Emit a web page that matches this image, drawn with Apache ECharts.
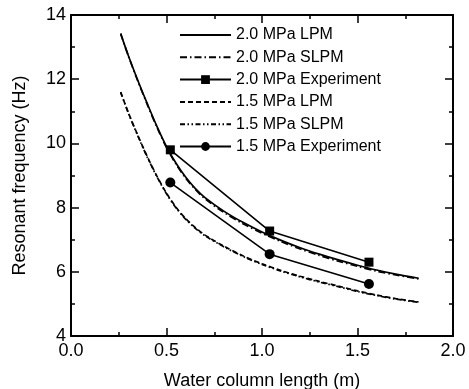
<!DOCTYPE html>
<html>
<head>
<meta charset="utf-8">
<script src="https://cdn.jsdelivr.net/npm/echarts@6/dist/echarts.min.js"></script>
<style>
html,body{margin:0;padding:0;background:#fff;}
#c{width:469px;height:389px;}
</style>
</head>
<body>
<div id="c"></div>
<script>
// ---- data ----
var xCurve = [0.26,0.30,0.35,0.40,0.45,0.50,0.55,0.60,0.65,0.70,0.80,0.90,1.00,1.10,1.20,1.30,1.40,1.50,1.60,1.70,1.82];
var lpm20  = [13.42,12.74,11.96,11.23,10.53,9.90,9.38,8.95,8.60,8.32,7.89,7.54,7.24,6.98,6.75,6.55,6.37,6.205,6.055,5.93,5.80];
var slpm20 = [13.42,12.73,11.94,11.20,10.50,9.87,9.35,8.92,8.57,8.28,7.85,7.50,7.20,6.94,6.71,6.51,6.33,6.17,6.02,5.90,5.78];
var lpm15  = [11.60,10.96,10.25,9.58,8.98,8.45,8.01,7.66,7.38,7.15,6.80,6.50,6.25,6.04,5.86,5.70,5.555,5.405,5.275,5.165,5.06];
var slpm15 = [11.59,10.95,10.23,9.56,8.96,8.43,7.99,7.64,7.36,7.13,6.78,6.48,6.23,6.02,5.84,5.68,5.535,5.385,5.26,5.15,5.05];
var xExp   = [0.52,1.04,1.56];
var exp20  = [9.80,7.27,6.30];
var exp15  = [8.78,6.55,5.62];
var seriesNames = ['2.0 MPa LPM','2.0 MPa SLPM','2.0 MPa Experiment','1.5 MPa LPM','1.5 MPa SLPM','1.5 MPa Experiment'];
var xTitle = 'Water column length (m)';
var yTitle = 'Resonant frequency (Hz)';

function pairs(xs, ys){ return xs.map(function(x,i){ return [x, ys[i]]; }); }

var FONT = 'Liberation Sans, Arial, Helvetica, sans-serif';
var chart = echarts.init(document.getElementById('c'));

function axisCommon(extra){
  var base = {
    axisLine:{show:true, onZero:false, lineStyle:{color:'#000', width:2}},
    axisTick:{show:true, inside:true, length:8, lineStyle:{color:'#000', width:1.5}},
    minorTick:{show:true, splitNumber:2, length:4, lineStyle:{color:'#000', width:1.5}},
    splitLine:{show:false},
    minorSplitLine:{show:false}
  };
  for (var k in extra) base[k] = extra[k];
  return base;
}

function lineSeries(name, data, dash){
  return {
    name:name, type:'line', data:data, smooth:0.3,
    symbol:'none', showSymbol:false,
    lineStyle:{color:'#000', width:1.7, type:dash},
    itemStyle:{color:'#000'},
    animation:false, z:2
  };
}
function expSeries(name, data, symbol, size){
  return {
    name:name, type:'line', data:data, smooth:false,
    symbol:symbol, symbolSize:size, showSymbol:true,
    lineStyle:{color:'#000', width:1.6, type:'solid'},
    itemStyle:{color:'#000'},
    animation:false, z:3
  };
}

var hasMarker = [false,false,true,false,false,true];
var legendData = seriesNames.map(function(n,i){
  return hasMarker[i] ? {name:n} : {name:n, itemStyle:{color:'rgba(0,0,0,0)', borderWidth:0, opacity:0}};
});

var option = {
  backgroundColor:'#fff',
  animation:false,
  textStyle:{fontFamily:FONT, color:'#000'},
  grid:{left:71, right:16, top:15, bottom:53, containLabel:false, outerBoundsMode:'none'},
  legend:{
    orient:'vertical', left:174, top:22,
    itemWidth:51, itemHeight:11, itemGap:6.3,
    textStyle:{fontFamily:FONT, fontSize:16, color:'#000'},
    data:legendData,
    selectedMode:false
  },
  xAxis:[
    axisCommon({type:'value', position:'bottom', min:0, max:2, interval:0.5,
      name:xTitle, nameLocation:'middle', nameGap:36,
      nameTextStyle:{fontFamily:FONT, fontSize:18, color:'#000'},
      axisLabel:{show:true, margin:6, fontFamily:FONT, fontSize:18, color:'#000',
        formatter:function(v){ return v.toFixed(1); }}}),
    axisCommon({type:'value', position:'top', min:0, max:2, interval:0.5,
      axisLabel:{show:false}})
  ],
  yAxis:[
    axisCommon({type:'value', position:'left', min:4, max:14, interval:2,
      name:yTitle, nameLocation:'middle', nameGap:42,
      nameTextStyle:{fontFamily:FONT, fontSize:18, color:'#000'},
      axisLabel:{show:true, margin:5, fontFamily:FONT, fontSize:18, color:'#000'}}),
    axisCommon({type:'value', position:'right', min:4, max:14, interval:2,
      axisLabel:{show:false}})
  ],
  series:[
    lineSeries(seriesNames[0], pairs(xCurve, lpm20), 'solid'),
    lineSeries(seriesNames[1], pairs(xCurve, slpm20), [7,3,1.5,3]),
    expSeries(seriesNames[2], pairs(xExp, exp20), 'rect', 9),
    lineSeries(seriesNames[3], pairs(xCurve, lpm15), [5,3]),
    lineSeries(seriesNames[4], pairs(xCurve, slpm15), [5,2.5,1.5,2.5,1.5,2.5]),
    expSeries(seriesNames[5], pairs(xExp, exp15), 'circle', 10)
  ]
};
chart.setOption(option);
</script>
</body>
</html>
